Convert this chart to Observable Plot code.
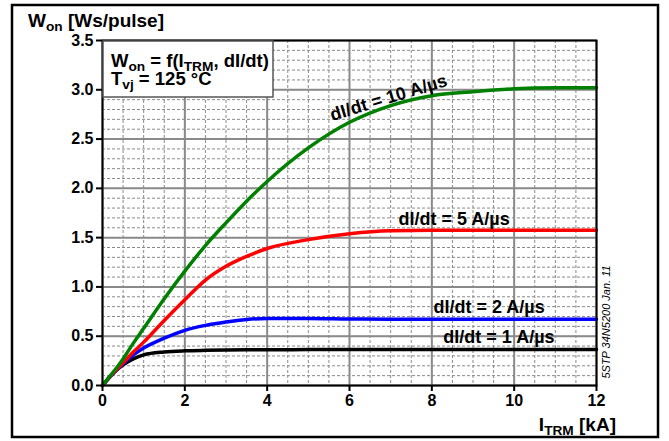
<!DOCTYPE html>
<html><head><meta charset="utf-8">
<script src="https://cdn.jsdelivr.net/npm/d3@7"></script>
<script src="https://cdn.jsdelivr.net/npm/@observablehq/plot@0.6"></script>
<style>body{margin:0;background:#fff}</style>
</head><body><div id="chart"></div>
<script>
// I_TRM [kA]
const current = [0, 0.25, 0.5, 0.75, 1, 1.5, 2, 2.5, 3, 3.5, 4, 5, 6, 7, 8, 9, 10, 11, 12];
// W_on [Ws/pulse]
const won1  = [0, 0.12, 0.21, 0.27, 0.31, 0.34, 0.352, 0.357, 0.36, 0.362, 0.363, 0.364, 0.365, 0.365, 0.365, 0.365, 0.365, 0.365, 0.365];
const won2  = [0, 0.12, 0.22, 0.31, 0.38, 0.48, 0.56, 0.61, 0.645, 0.67, 0.68, 0.68, 0.675, 0.673, 0.673, 0.673, 0.673, 0.673, 0.673];
const won5  = [0, 0.12, 0.23, 0.34, 0.44, 0.66, 0.87, 1.07, 1.21, 1.31, 1.39, 1.48, 1.54, 1.57, 1.575, 1.575, 1.575, 1.575, 1.575];
const won10 = [0, 0.13, 0.27, 0.43, 0.58, 0.88, 1.16, 1.42, 1.65, 1.87, 2.07, 2.41, 2.67, 2.84, 2.94, 2.98, 3.01, 3.02, 3.02];
const seriesNames  = ["dI/dt = 1 A/µs", "dI/dt = 2 A/µs", "dI/dt = 5 A/µs", "dI/dt = 10 A/µs"];
const seriesColors = ["#000000", "#0000ff", "#ff0000", "#008000"];
const seriesValues = [won1, won2, won5, won10];
// label anchor positions (data units) and rotation
const labelX = [9.63, 9.39, 8.54, 6.95];
const labelY = [0.49, 0.79, 1.69, 2.92];
const labelRotate = [0, 0, 0, -17];
const xTicks = [0, 2, 4, 6, 8, 10, 12];
const yTicks = [0, 0.5, 1, 1.5, 2, 2.5, 3, 3.5];
const xMinor = d3.range(0, 12.001, 0.5);
const yMinor = d3.range(0, 3.5001, 0.1);

const rows = seriesNames.flatMap((name, s) => current.map((x, i) => ({x, y: seriesValues[s][i], name})));
const labels = seriesNames.map((name, i) => ({x: labelX[i], y: labelY[i], text: name, rotate: labelRotate[i]}));

const FONT = "'Liberation Sans', Arial, sans-serif";
const grid = "#8a8a8a";

const plot = Plot.plot({
  width: 669, height: 441,
  marginLeft: 102, marginRight: 73, marginTop: 40, marginBottom: 56,
  style: {fontFamily: FONT, fontSize: "15px", fontWeight: "bold", color: "#000", background: "#fff"},
  x: {domain: [0, 12], label: null},
  y: {domain: [0, 3.5], label: null},
  color: {domain: seriesNames, range: seriesColors},
  marks: [
    Plot.ruleX(xMinor, {stroke: grid, strokeWidth: 1, strokeDasharray: "3,2"}),
    Plot.ruleY(yMinor, {stroke: grid, strokeWidth: 1, strokeDasharray: "3,2"}),
    Plot.ruleX(xTicks, {stroke: grid, strokeWidth: 2}),
    Plot.ruleY(yTicks, {stroke: grid, strokeWidth: 2}),
    Plot.line(rows, {x: "x", y: "y", z: "name", stroke: "name", strokeWidth: 3.5, curve: "monotone-x"}),
    Plot.text(labels, {x: "x", y: "y", text: "text", rotate: "rotate", fontSize: 18, fontWeight: "bold", fill: "#000"}),
    Plot.frame({stroke: "#000", strokeWidth: 2}),
    Plot.axisX({ticks: xTicks, tickFormat: d => String(d), tickSize: 6, tickPadding: 3, strokeWidth: 2, fontSize: 16, fontWeight: "bold", label: null}),
    Plot.axisY({ticks: yTicks, tickFormat: d3.format(".1f"), tickSize: 6, tickPadding: 3, strokeWidth: 2, fontSize: 16, fontWeight: "bold", label: null})
  ]
});

const svg = d3.select(plot);
// outer frame
svg.append("rect").attr("x", 12).attr("y", 5).attr("width", 646).attr("height", 432)
  .attr("fill", "none").attr("stroke", "#000").attr("stroke-width", 2.5);
// legend box
svg.append("rect").attr("x", 103).attr("y", 41).attr("width", 170).attr("height", 56)
  .attr("fill", "#fff").attr("stroke", "#555").attr("stroke-width", 1.5);

function richText(x, y, size, parts, anchor, subScale, shift) {
  const t = svg.append("text").attr("x", x).attr("y", y).attr("font-family", FONT)
    .attr("font-weight", "bold").attr("font-size", size).attr("fill", "#000")
    .attr("text-anchor", anchor || "start");
  const off = shift != null ? shift : size * 0.22;
  const sc = subScale || 0.72;
  parts.forEach(([s, sub]) => {
    const ts = t.append("tspan").text(s);
    if (sub) ts.attr("dy", off).attr("font-size", size * sc);
    else ts.attr("dy", t.node().childNodes.length > 1 ? -off : 0);
  });
  return t;
}
richText(28, 27, 19, [["W"], ["on", true], [" [Ws/pulse]"]]);
richText(111, 66.5, 18.5, [["W"], ["on", true], [" = f(I"], ["TRM", true], [", dI/dt)"]], "start", 0.74, 4);
richText(111, 85, 18.5, [["T"], ["vj", true], [" = 125 °C"]], "start", 0.74, 4);
richText(616, 431, 19, [["I"], ["TRM", true], [" [kA]"]], "end");
svg.append("text").attr("transform", "translate(610,322) rotate(-90)")
  .attr("text-anchor", "middle").attr("font-family", FONT).attr("font-style", "italic")
  .attr("font-weight", "normal").attr("font-size", 11).attr("fill", "#000")
  .text("5STP 34N5200 Jan. 11");

document.getElementById("chart").appendChild(plot);
</script>
</body></html>
